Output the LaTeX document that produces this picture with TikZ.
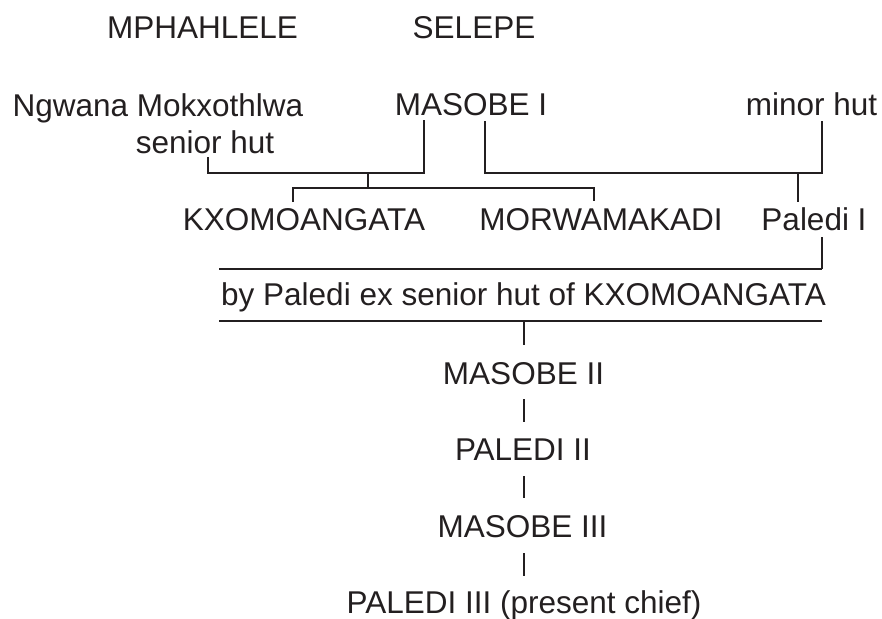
\documentclass[tikz,border=0pt]{standalone}
\usepackage{fontspec}
\setmainfont{Liberation Sans}
\definecolor{ink}{HTML}{231F20}
\begin{document}
\begin{tikzpicture}[x=1pt,y=-1pt,
  lbl/.style={anchor=base,inner sep=0pt,text=ink,font=\fontsize{31.5}{36}\selectfont},
  link/.style={draw=ink,line width=2.4pt},
  bar/.style={draw=ink,line width=2.6pt}]
\useasboundingbox (0,0) rectangle (882,618);
\node[lbl] (mph) at (202.5,38) {MPHAHLELE};
\node[lbl] (sel) at (474,38) {SELEPE};
\node[lbl] (ngw) at (158,116) {Ngwana Mokxothlwa};
\node[lbl] (sen) at (205,153) {senior hut};
\node[lbl] (mas1) at (471,115) {MASOBE I};
\node[lbl] (minor) at (811.5,115) {minor hut};
\node[lbl] (kxo) at (304,230) {KXOMOANGATA};
\node[lbl] (mor) at (601,230) {MORWAMAKADI};
\node[lbl] (pal1) at (814,230) {Paledi I};
\node[lbl] (by) at (523.5,305) {by Paledi ex senior hut of KXOMOANGATA};
\node[lbl] (mas2) at (523.5,384) {MASOBE II};
\node[lbl] (pal2) at (523,460) {PALEDI II};
\node[lbl] (mas3) at (522.5,537) {MASOBE III};
\node[lbl] (pal3) at (524,613) {PALEDI III (present chief)};
% senior hut + MASOBE I
\draw[link] (208,157) -- (208,173) -- (424,173) -- (424,120);
\draw[link] (368,173) -- (368,188);
\draw[link] (293,202) -- (293,188) -- (594,188) -- (594,201);
% MASOBE I + minor hut
\draw[link] (485,121) -- (485,173) -- (822,173) -- (822,121);
\draw[link] (798,173) -- (798,202);
% Paledi I
\draw[link] (822,237) -- (822,269);
\draw[bar] (822,269) -- (219,269);
\draw[bar] (219,321) -- (822,321);
\draw[link] (524,321) -- (524,345);
\draw[link] (524,399) -- (524,422);
\draw[link] (524,476) -- (524,498);
\draw[link] (524,553) -- (524,576);
\end{tikzpicture}
\end{document}
